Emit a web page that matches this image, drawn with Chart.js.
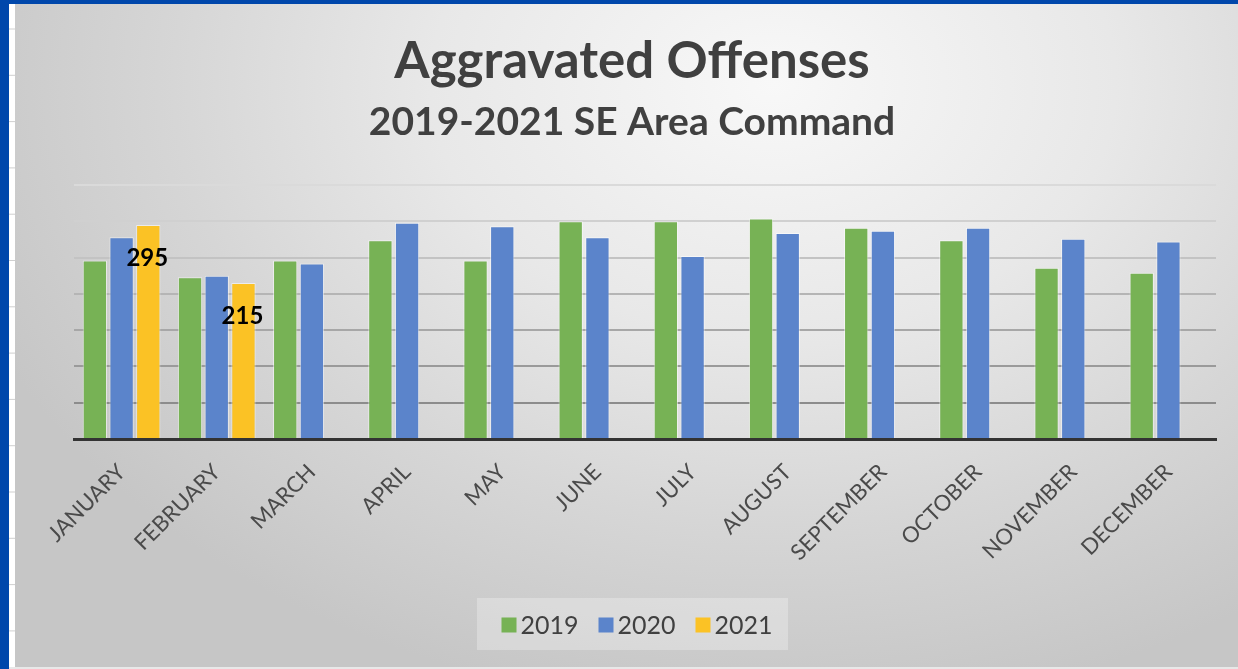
<!DOCTYPE html>
<html>
<head>
<meta charset="utf-8">
<script src="https://cdn.jsdelivr.net/npm/chart.js@4"></script>
<style>
  html, body { margin: 0; padding: 0; }
  body { width: 1238px; height: 669px; background: #0047ab; position: relative; overflow: hidden; }
  #strip { position: absolute; left: 9px; top: 4px; width: 6px; height: 665px;
    background: repeating-linear-gradient(to bottom, #ffffff 0px, #ffffff 24px, #cfcfcf 25px, #ffffff 26px, #ffffff 46.3px); }
  #wrap { position: absolute; left: 15px; top: 4px; width: 1223px; height: 663px;
    background: radial-gradient(ellipse 70% 95% at 62% 12%, #f8f8f8 0%, #e8e8e8 40%, #d6d6d6 70%, #c6c6c6 100%); }
  #bottomline { position: absolute; left: 9px; top: 667px; width: 1229px; height: 2px; background: #e8e8e8; }
</style>
</head>
<body>
<div id="strip"></div>
<div id="wrap"><canvas id="c" width="1223" height="663"></canvas></div>
<div id="bottomline"></div>
<script>
const titleText = 'Aggravated Offenses';
const subtitleText = '2019-2021 SE Area Command';
const months = ['JANUARY','FEBRUARY','MARCH','APRIL','MAY','JUNE','JULY','AUGUST','SEPTEMBER','OCTOBER','NOVEMBER','DECEMBER'];
const seriesNames = ['2019','2020','2021'];
const values2019 = [246, 223, 246, 274, 246, 300, 300, 304, 291, 274, 236, 229];
const values2020 = [278, 225, 242, 298, 293, 278, 252, 284, 287, 291, 276, 272];
const values2021 = [295, 215, null, null, null, null, null, null, null, null, null, null];
const yTicks = [0, 50, 100, 150, 200, 250, 300, 350];

const colors = ['#77b255', '#5b84cb', '#fbc225'];
const FONT = 'Lato, "Open Sans", sans-serif';

const gridColor = {0:'rgba(0,0,0,0)',50:'#8c8c8c',100:'#9a9a9a',150:'#a7a7a7',200:'#b5b5b5',250:'#c3c3c3',300:'#d0d0d0',350:'#dadada'};

const titlePlugin = {
  id: 'titles',
  afterDraw(chart) {
    const ctx = chart.ctx;
    ctx.save();
    ctx.fillStyle = '#404040';
    ctx.textAlign = 'center';
    ctx.textBaseline = 'middle';
    ctx.font = 'bold 51px ' + FONT;
    ctx.fillText(titleText, 617, 58);
    ctx.font = 'bold 39px ' + FONT;
    ctx.fillText(subtitleText, 617, 118);
    ctx.restore();
  }
};

const labelPlugin = {
  id: 'valueLabels',
  afterDatasetsDraw(chart) {
    const ctx = chart.ctx;
    const meta = chart.getDatasetMeta(2);
    ctx.save();
    ctx.font = 'bold 24px ' + FONT;
    ctx.fillStyle = '#000000';
    ctx.textAlign = 'center';
    ctx.textBaseline = 'middle';
    meta.data.forEach((bar, i) => {
      const v = values2021[i];
      if (v === null || v === undefined) return;
      ctx.fillText(String(v), bar.x - 1, bar.y + 33);
    });
    ctx.restore();
  }
};

const legendPlugin = {
  id: 'customLegend',
  afterDraw(chart) {
    const ctx = chart.ctx;
    ctx.save();
    ctx.fillStyle = 'rgba(255,255,255,0.28)';
    ctx.fillRect(462, 594, 311, 52);
    ctx.font = '25px ' + FONT;
    ctx.textBaseline = 'middle';
    const box = 15, gapBox = 4, gapItem = 20;
    const widths = seriesNames.map(s => ctx.measureText(s).width);
    let total = 0;
    widths.forEach((w, i) => { total += box + gapBox + w + (i < widths.length - 1 ? gapItem : 0); });
    let x = 622 - total / 2;
    const cy = 621;
    seriesNames.forEach((s, i) => {
      ctx.fillStyle = colors[i];
      ctx.fillRect(x, cy - box / 2, box, box);
      x += box + gapBox;
      ctx.fillStyle = '#404040';
      ctx.fillText(s, x, cy + 1);
      x += widths[i] + gapItem;
    });
    ctx.restore();
  }
};

new Chart(document.getElementById('c'), {
  type: 'bar',
  data: {
    labels: months,
    datasets: [
      { label: seriesNames[0], data: values2019, backgroundColor: colors[0], borderColor: 'rgba(255,255,255,0.55)', borderWidth: 1 },
      { label: seriesNames[1], data: values2020, backgroundColor: colors[1], borderColor: 'rgba(255,255,255,0.55)', borderWidth: 1 },
      { label: seriesNames[2], data: values2021, backgroundColor: colors[2], borderColor: 'rgba(255,255,255,0.55)', borderWidth: 1 }
    ]
  },
  options: {
    responsive: false,
    animation: false,
    devicePixelRatio: 1,
    layout: { padding: { left: 59, right: 22, top: 181, bottom: 0 } },
    datasets: { bar: { categoryPercentage: 0.842, barPercentage: 0.91 } },
    plugins: {
      legend: { display: false },
      tooltip: { enabled: false },
      title: { display: false },
      subtitle: { display: false }
    },
    scales: {
      x: {
        grid: { display: false, drawTicks: false },
        border: { display: true, color: '#333333', width: 3 },
        ticks: { color: '#4a4a4a', font: { family: FONT, size: 22 }, minRotation: 45, maxRotation: 45, padding: 20, autoSkip: false },
        afterFit(scale) { scale.height = 228; }
      },
      y: {
        min: 0, max: 350,
        afterBuildTicks(scale) { scale.ticks = yTicks.map(v => ({ value: v })); },
        ticks: { display: false },
        border: { display: false },
        grid: {
          drawTicks: false,
          lineWidth: 2,
          color: (c) => gridColor[c.tick.value] || '#cccccc'
        }
      }
    }
  },
  plugins: [titlePlugin, labelPlugin, legendPlugin]
});
</script>
</body>
</html>
